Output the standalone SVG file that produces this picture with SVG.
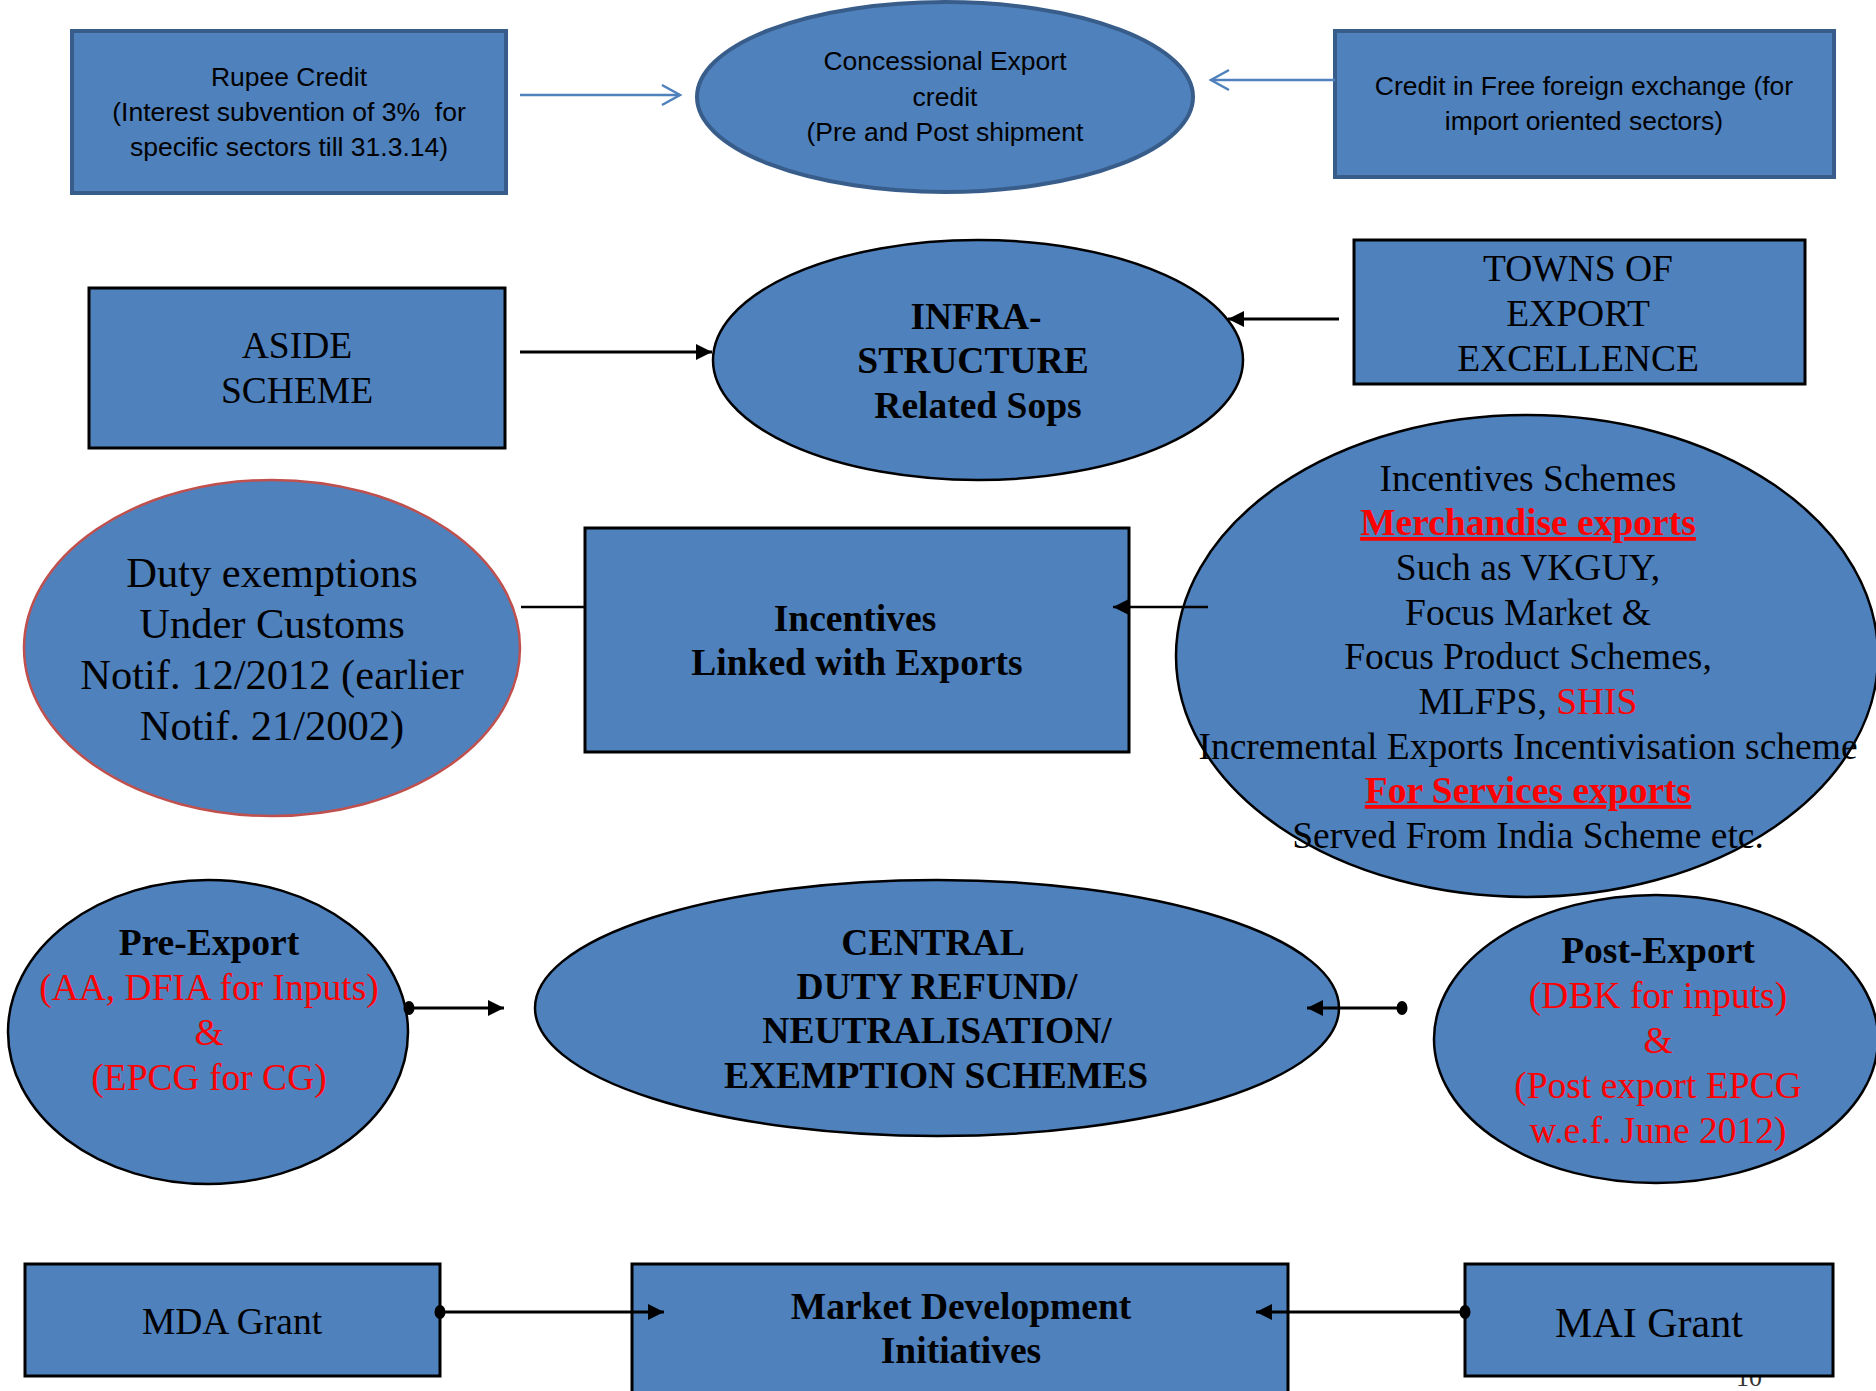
<svg xmlns="http://www.w3.org/2000/svg" width="1876" height="1391" viewBox="0 0 1876 1391">
<style>
.fill{fill:#4f81bd}
.blueS{stroke:#385d8a;stroke-width:4}
.blackS{stroke:#000;stroke-width:3}
.cal{font-family:"Liberation Sans",Arial,sans-serif;font-size:26.5px;fill:#000;text-anchor:middle}
.tnr{font-family:"Liberation Serif","Times New Roman",serif;font-size:37.5px;fill:#000;text-anchor:middle}
.b{font-weight:bold}
.red{fill:#ff0000}
.u{text-decoration:underline}
.conB{stroke:#4f81bd;stroke-width:2.5;fill:none}
.conK{stroke:#000;stroke-width:3;fill:none}
</style>
<defs>
<marker id="chev" markerUnits="userSpaceOnUse" markerWidth="24" markerHeight="26" refX="20" refY="12" orient="auto">
<path d="M2,2 L20,12 L2,22" fill="none" stroke="#4f81bd" stroke-width="2.5"/>
</marker>
<marker id="tri" markerUnits="userSpaceOnUse" markerWidth="18" markerHeight="18" refX="16" refY="8" orient="auto">
<path d="M0,0 L16,8 L0,16 Z" fill="#000"/>
</marker>
<marker id="dot" markerUnits="userSpaceOnUse" markerWidth="14" markerHeight="16" refX="7" refY="8" orient="auto">
<ellipse cx="7" cy="8" rx="5.5" ry="7" fill="#000"/>
</marker>
</defs>

<text class="tnr" x="1749" y="1386" style="font-size:26px;fill:#333">10</text>

<g id="rupee-credit">
<rect class="fill blueS" x="72" y="31" width="434" height="162"/>
<text class="cal" x="289" y="86">Rupee Credit</text>
<text class="cal" x="289" y="121" xml:space="preserve">(Interest subvention of 3%  for</text>
<text class="cal" x="289" y="156">specific sectors till 31.3.14)</text>
</g>

<g id="concessional">
<ellipse class="fill blueS" cx="945" cy="97" rx="248" ry="95"/>
<text class="cal" x="945" y="70">Concessional Export</text>
<text class="cal" x="945" y="106">credit</text>
<text class="cal" x="945" y="141">(Pre and Post shipment</text>
</g>

<g id="free-foreign">
<rect class="fill blueS" x="1335" y="31" width="499" height="146"/>
<text class="cal" x="1584" y="95">Credit in Free foreign exchange (for</text>
<text class="cal" x="1584" y="130">import oriented sectors)</text>
</g>

<g id="aside">
<rect class="fill blackS" x="89" y="288" width="416" height="160"/>
<text class="tnr" x="297" y="358">ASIDE</text>
<text class="tnr" x="297" y="403">SCHEME</text>
</g>

<g id="infra">
<ellipse class="fill blackS" cx="978" cy="360" rx="265" ry="120" style="stroke-width:2.5"/>
<text class="tnr b" x="976" y="329">INFRA-</text>
<text class="tnr b" x="973" y="373">STRUCTURE</text>
<text class="tnr b" x="978" y="418">Related Sops</text>
</g>

<g id="towns">
<rect class="fill blackS" x="1354" y="240" width="451" height="144"/>
<text class="tnr" x="1578" y="281">TOWNS OF</text>
<text class="tnr" x="1578" y="326">EXPORT</text>
<text class="tnr" x="1578" y="371">EXCELLENCE</text>
</g>

<g id="duty">
<ellipse class="fill" cx="272" cy="648" rx="248" ry="168" stroke="#c0504d" stroke-width="2.5"/>
<text class="tnr" x="272" y="587" style="font-size:42.5px">Duty exemptions</text>
<text class="tnr" x="272" y="638" style="font-size:42.5px">Under Customs</text>
<text class="tnr" x="272" y="689" style="font-size:42.5px">Notif. 12/2012 (earlier</text>
<text class="tnr" x="272" y="740" style="font-size:42.5px">Notif. 21/2002)</text>
</g>

<g id="incentives-linked">
<rect class="fill blackS" x="585" y="528" width="544" height="224"/>
<text class="tnr b" x="855" y="631">Incentives</text>
<text class="tnr b" x="857" y="675">Linked with Exports</text>
</g>

<g id="incentives-schemes">
<ellipse class="fill blackS" cx="1527" cy="656" rx="351" ry="241" style="stroke-width:2.5"/>
<text class="tnr" x="1528" y="491">Incentives Schemes</text>
<text class="tnr b red u" x="1528" y="535">Merchandise exports</text>
<text class="tnr" x="1528" y="580">Such as VKGUY,</text>
<text class="tnr" x="1528" y="625">Focus Market &amp;</text>
<text class="tnr" x="1528" y="669">Focus Product Schemes,</text>
<text class="tnr" x="1528" y="714">MLFPS, <tspan class="red">SHIS</tspan></text>
<text class="tnr" x="1528" y="759">Incremental Exports Incentivisation scheme</text>
<text class="tnr b red u" x="1528" y="803">For Services exports</text>
<text class="tnr" x="1528" y="848">Served From India Scheme etc.</text>
</g>

<g id="pre-export">
<ellipse class="fill blackS" cx="208" cy="1032" rx="200" ry="152" style="stroke-width:2.5"/>
<text class="tnr b" x="209" y="955">Pre-Export</text>
<text class="tnr red" x="209" y="1000">(AA, DFIA for Inputs)</text>
<text class="tnr red" x="209" y="1045">&amp;</text>
<text class="tnr red" x="209" y="1090">(EPCG for CG)</text>
</g>

<g id="central">
<ellipse class="fill blackS" cx="937" cy="1008" rx="402" ry="128" style="stroke-width:2.5"/>
<text class="tnr b" x="933" y="955">CENTRAL</text>
<text class="tnr b" x="937" y="999">DUTY REFUND/</text>
<text class="tnr b" x="937" y="1043">NEUTRALISATION/</text>
<text class="tnr b" x="936" y="1088">EXEMPTION SCHEMES</text>
</g>

<g id="post-export">
<ellipse class="fill blackS" cx="1656" cy="1039" rx="222" ry="144" style="stroke-width:2.5"/>
<text class="tnr b" x="1658" y="963">Post-Export</text>
<text class="tnr red" x="1658" y="1008">(DBK for inputs)</text>
<text class="tnr red" x="1658" y="1053">&amp;</text>
<text class="tnr red" x="1658" y="1098">(Post export EPCG</text>
<text class="tnr red" x="1658" y="1143">w.e.f. June 2012)</text>
</g>

<g id="mda">
<rect class="fill blackS" x="25" y="1264" width="415" height="112"/>
<text class="tnr" x="232" y="1334">MDA Grant</text>
</g>

<g id="market-dev">
<rect class="fill blackS" x="632" y="1264" width="656" height="140"/>
<text class="tnr b" x="961" y="1319">Market Development</text>
<text class="tnr b" x="961" y="1363">Initiatives</text>
</g>

<g id="mai">
<rect class="fill blackS" x="1465" y="1264" width="368" height="112"/>
<text class="tnr" x="1649" y="1337" style="font-size:42px">MAI Grant</text>
</g>

<g id="connectors">
<line class="conB" x1="520" y1="95" x2="680" y2="95" marker-end="url(#chev)"/>
<line class="conB" x1="1335" y1="80" x2="1211" y2="80" marker-end="url(#chev)"/>
<line class="conK" x1="520" y1="352" x2="712" y2="352" marker-end="url(#tri)"/>
<line class="conK" x1="1339" y1="319" x2="1228" y2="319" marker-end="url(#tri)"/>
<line class="conK" x1="521" y1="607" x2="585" y2="607" style="stroke-width:2.5"/>
<line class="conK" x1="1208" y1="607" x2="1113" y2="607" style="stroke-width:2.5" marker-end="url(#tri)"/>
<line class="conK" x1="409" y1="1008" x2="504" y2="1008" marker-start="url(#dot)" marker-end="url(#tri)"/>
<line class="conK" x1="1402" y1="1008" x2="1307" y2="1008" marker-start="url(#dot)" marker-end="url(#tri)"/>
<line class="conK" x1="440" y1="1312" x2="664" y2="1312" marker-start="url(#dot)" marker-end="url(#tri)"/>
<line class="conK" x1="1465" y1="1312" x2="1256" y2="1312" marker-start="url(#dot)" marker-end="url(#tri)"/>
</g>
</svg>
